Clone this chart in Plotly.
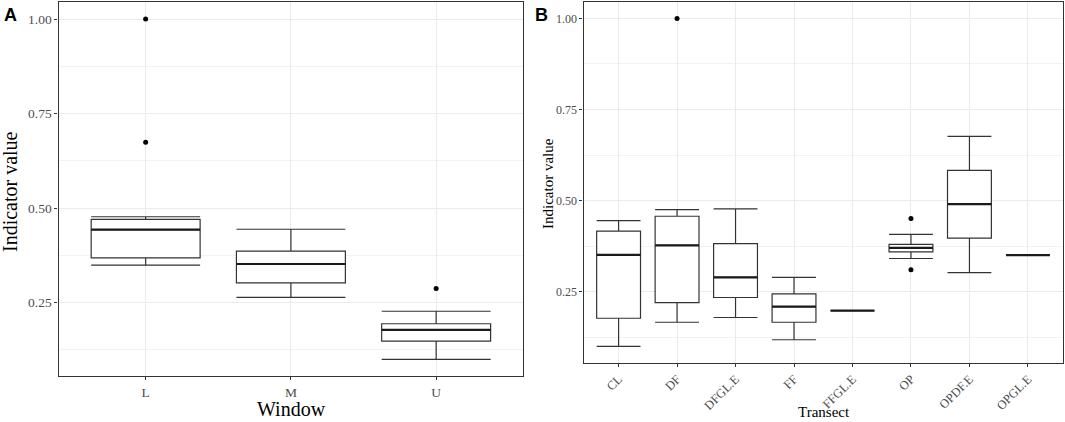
import plotly.graph_objects as go

# Panel A: indicator value by window (box stats)
window_cats = ["L", "M", "U"]
window_lower = [0.349, 0.264, 0.100]
window_q1 = [0.368, 0.302, 0.148]
window_median = [0.443, 0.352, 0.178]
window_q3 = [0.470, 0.386, 0.194]
window_upper = [0.477, 0.444, 0.227]
window_out_cat = ["L", "L", "U"]
window_out_val = [1.000, 0.674, 0.287]

# Panel B: indicator value by transect
transect_cats = ["CL", "DF", "DFGL.E", "FF", "FFGL.E", "OP", "OPDF.E", "OPGL.E"]
transect_lower = [0.100, 0.166, 0.179, 0.118, 0.198, 0.341, 0.302, 0.350]
transect_q1 = [0.177, 0.220, 0.234, 0.166, 0.198, 0.359, 0.397, 0.350]
transect_median = [0.351, 0.377, 0.289, 0.209, 0.198, 0.370, 0.490, 0.350]
transect_q3 = [0.416, 0.457, 0.382, 0.244, 0.198, 0.380, 0.583, 0.350]
transect_upper = [0.445, 0.475, 0.477, 0.289, 0.198, 0.407, 0.676, 0.350]
transect_out_cat = ["DF", "OP", "OP"]
transect_out_val = [1.000, 0.451, 0.310]

y_ticks = [0.25, 0.50, 0.75, 1.00]

BOX_W = 0.75
LINE = "#333333"
SERIF = "Liberation Serif, Times New Roman, serif"


def add_panel(fig, cats, lower, q1, med, q3, upper, out_cat, out_val, xa, ya):
    pos = list(range(1, len(cats) + 1))
    fig.add_trace(go.Box(
        x=pos, q1=q1, median=med, q3=q3, lowerfence=lower, upperfence=upper,
        width=BOX_W, whiskerwidth=1, boxpoints=False,
        fillcolor="white", line=dict(color=LINE, width=1.2),
        xaxis=xa, yaxis=ya, showlegend=False, hoverinfo="skip",
    ))
    # thicker median bar, like ggplot's fatten
    mx, my = [], []
    for p, m in zip(pos, med):
        mx += [p - BOX_W / 2, p + BOX_W / 2, None]
        my += [m, m, None]
    fig.add_trace(go.Scatter(
        x=mx, y=my, mode="lines", line=dict(color="#1a1a1a", width=2.2),
        xaxis=xa, yaxis=ya, showlegend=False, hoverinfo="skip",
    ))
    # outliers
    ox = [cats.index(c) + 1 for c in out_cat]
    fig.add_trace(go.Scatter(
        x=ox, y=out_val, mode="markers", marker=dict(color="black", size=5),
        xaxis=xa, yaxis=ya, showlegend=False, hoverinfo="skip",
    ))


fig = go.Figure()
add_panel(fig, window_cats, window_lower, window_q1, window_median, window_q3,
          window_upper, window_out_cat, window_out_val, "x", "y")
add_panel(fig, transect_cats, transect_lower, transect_q1, transect_median,
          transect_q3, transect_upper, transect_out_cat, transect_out_val, "x2", "y2")


def x_axis(cats, domain, anchor, size, angle):
    return dict(
        domain=domain, anchor=anchor, range=[0.4, len(cats) + 0.6], automargin=False,
        tickvals=list(range(1, len(cats) + 1)), ticktext=cats, tickangle=angle,
        showgrid=True, gridcolor="#EBEBEB", gridwidth=1, zeroline=False,
        showline=True, mirror=True, linecolor=LINE, linewidth=1.3,
        ticks="outside", ticklen=3, tickcolor=LINE,
        tickfont=dict(family=SERIF, size=size, color="#4D4D4D"),
    )


def y_axis(domain, anchor, size):
    return dict(
        domain=domain, anchor=anchor, range=[0.055, 1.045], automargin=False,
        tickvals=y_ticks, ticktext=["%.2f" % v for v in y_ticks],
        showgrid=True, gridcolor="#EBEBEB", gridwidth=1, zeroline=False,
        minor=dict(tickvals=[0.125, 0.375, 0.625, 0.875], showgrid=True,
                   gridcolor="#F2F2F2", gridwidth=1, ticks=""),
        showline=True, mirror=True, linecolor=LINE, linewidth=1.3,
        ticks="outside", ticklen=3, tickcolor=LINE,
        tickfont=dict(family=SERIF, size=size, color="#4D4D4D"),
    )


W, H = 1065, 422

fig.update_layout(
    width=W, height=H,
    margin=dict(l=0, r=0, t=0, b=0),
    paper_bgcolor="white", plot_bgcolor="white",
    xaxis=x_axis(window_cats, [58.5 / W, 523.3 / W], "y", 13.5, 0),
    yaxis=y_axis([1 - 376.3 / H, 1 - 2 / H], "x", 13.5),
    xaxis2=x_axis(transect_cats, [583.5 / W, 1063 / W], "y2", 12.5, -45),
    yaxis2=y_axis([1 - 362.7 / H, 1 - 2 / H], "x2", 12),
    annotations=[
        dict(text="Indicator value", x=10 / W, y=1 - 192 / H, xref="paper", yref="paper",
             xanchor="center", yanchor="middle", textangle=-90, showarrow=False,
             font=dict(family=SERIF, size=20, color="black")),
        dict(text="Window", x=291 / W, y=0, xref="paper", yref="paper",
             xanchor="center", yanchor="bottom", showarrow=False,
             font=dict(family=SERIF, size=20, color="black")),
        dict(text="Indicator value", x=548 / W, y=1 - 184 / H, xref="paper", yref="paper",
             xanchor="center", yanchor="middle", textangle=-90, showarrow=False,
             font=dict(family=SERIF, size=15, color="black")),
        dict(text="Transect", x=824 / W, y=0, xref="paper", yref="paper",
             xanchor="center", yanchor="bottom", showarrow=False,
             font=dict(family=SERIF, size=15, color="black")),
        dict(text="<b>A</b>", x=2 / W, y=1 - 3 / H, xref="paper", yref="paper",
             xanchor="left", yanchor="top", showarrow=False,
             font=dict(family="Liberation Sans, Arial", size=18, color="black")),
        dict(text="<b>B</b>", x=533 / W, y=1 - 3 / H, xref="paper", yref="paper",
             xanchor="left", yanchor="top", showarrow=False,
             font=dict(family="Liberation Sans, Arial", size=18, color="black")),
    ],
)

# page body has a default 8px margin; drop it so the figure fills the window
fig.write_html("out.html", config={"displayModeBar": False},
               post_script="document.body.style.margin = '0';")
